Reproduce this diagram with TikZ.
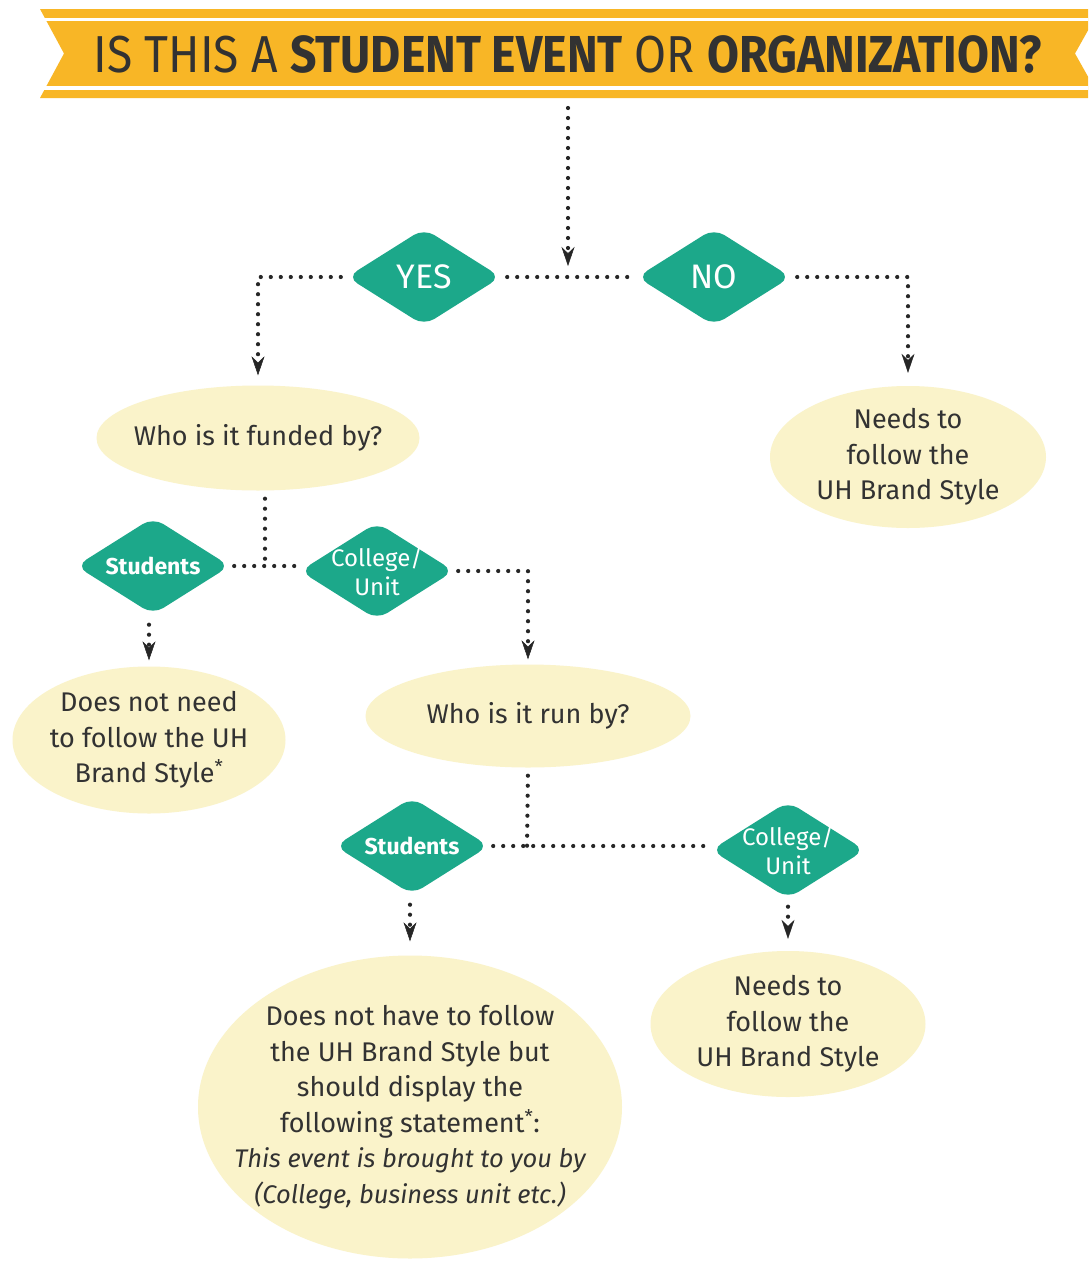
\documentclass[tikz,border=0pt]{standalone}
\usepackage{fontspec}
\setmainfont{Fira Sans}
\usetikzlibrary{shapes.geometric,arrows.meta}
\definecolor{banner}{RGB}{248,182,38}
\definecolor{tealx}{RGB}{28,168,138}
\definecolor{cream}{RGB}{250,243,202}
\definecolor{txt}{RGB}{50,50,50}
\tikzset{
  dia/.style={shape=diamond, fill=tealx, text=white, rounded corners=12pt,
    minimum width=154pt, minimum height=97pt, inner sep=-20pt, aspect=1.6,
    align=center},
  bigdia/.style={dia, font=\fontsize{34}{36}\selectfont},
  smalldia/.style={dia, font=\fontsize{24}{29}\selectfont},
  studdia/.style={dia, font=\fontsize{23}{28}\selectfont\bfseries},
  oval/.style={ellipse, fill=cream, text=txt, inner sep=-60pt, align=center,
    font=\fontsize{27}{35.5}\selectfont},
  dotl/.style={line width=4.2pt, line cap=round, dash pattern=on 0pt off 10pt, draw=black!85},
  arr/.style={dotl, -{Stealth[length=19pt,width=13pt,line width=0.5pt]}}
}
\begin{document}
\begin{tikzpicture}[x=1pt,y=-1pt]
\useasboundingbox (0,0) rectangle (1088,1261);
\fill[white] (0,0) rectangle (1088,1261);
% banner
\begin{scope}
  \clip (0,0) rectangle (1088,1261);
  \fill[banner] (40,9) -- (1100,9) -- (1075,53.5) -- (1100,98) -- (40,98) -- (64,53.5) -- cycle;
  \fill[white] (30,17.5) rectangle (1100,21);
  \fill[white] (30,86) rectangle (1100,89.5);
\end{scope}
\node[text=txt, inner sep=0pt] (title) at (568,54)
  {\scalebox{0.89}[1]{\fontsize{52}{52}\selectfont IS THIS A \textbf{STUDENT EVENT} OR \textbf{ORGANIZATION?}}};

% nodes
\coordinate (start) at (568,108);
\coordinate (j0) at (568,266);
\node[bigdia] (yes) at (424,277) {YES};
\node[bigdia] (no) at (714,277) {NO};
\node[oval, minimum width=323pt, minimum height=105pt] (funded) at (258,438) {Who is it funded by?};
\node[oval, minimum width=276pt, minimum height=142pt] (need1) at (908,457) {Needs to\\follow the\\UH Brand Style};
\node[studdia] (stud1) at (153,566) {Students};
\node[smalldia] (col1) at (377,571) {College/\\Unit};
\coordinate (j1) at (265,568);
\node[oval, minimum width=273pt, minimum height=147pt] (notneed) at (149,740) {Does not need\\to follow the UH\\Brand Style\textsuperscript{*}};
\node[oval, minimum width=325pt, minimum height=103pt] (run) at (528,716) {Who is it run by?};
\node[studdia] (stud2) at (412,846) {Students};
\node[smalldia] (col2) at (788,850) {College/\\Unit};
\coordinate (j2) at (527,848);
\node[oval, minimum width=424pt, minimum height=303pt] (big) at (410,1107)
  {Does not have to follow\\the UH Brand Style but\\should display the\\following statement\textsuperscript{*}:\\{\fontsize{25.5}{35.5}\selectfont\itshape This event is brought to you by}\\{\fontsize{25.5}{35.5}\selectfont\itshape (College, business unit etc.)}};
\node[oval, minimum width=275pt, minimum height=146pt] (need2) at (788,1024) {Needs to\\follow the\\UH Brand Style};

% connectors
\draw[arr] (start) -- (j0);
\draw[dotl, shorten <=6pt, shorten >=6pt] (yes.east) -- (no.west);
\draw[arr, shorten <=6pt, shorten >=10pt] (yes.west) -| (funded.north);
\draw[arr, shorten <=6pt, shorten >=13pt] (no.east) -| (need1.north);
\draw[dotl, shorten <=8pt] (funded.south -| j1) -- (j1);
\draw[dotl, shorten <=4pt, shorten >=4pt] (stud1.east) -- (stud1.east -| col1.west);
\draw[arr, shorten <=4pt, shorten >=5pt] (col1.east) -| (run.north);
\draw[arr, shorten <=10pt, shorten >=6pt] (stud1.south -| notneed.north) -- (notneed.north);
\draw[dotl, shorten <=8pt] (run.south) -- (j2);
\draw[dotl, shorten <=4pt, shorten >=4pt] (stud2.east) -- (stud2.east -| col2.west);
\draw[arr, shorten <=10pt, shorten >=14pt] (stud2.south -| big.north) -- (big.north);
\draw[arr, shorten <=8pt, shorten >=12pt] (col2.south) -- (need2.north);
\end{tikzpicture}
\end{document}
